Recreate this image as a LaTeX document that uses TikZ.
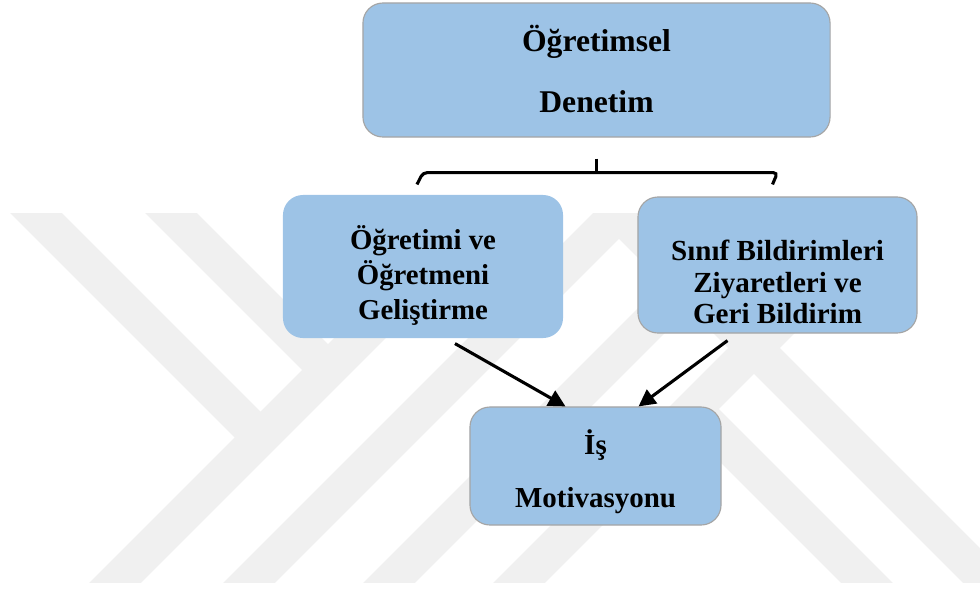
\documentclass[tikz,border=0pt]{standalone}
\usepackage{fontspec}
\setmainfont{Liberation Serif}
\usetikzlibrary{calc,arrows.meta}

\definecolor{kutumavi}{HTML}{9DC3E6}
\definecolor{kenargri}{HTML}{A5A5A5}
\definecolor{filigran}{HTML}{F0F0F0}

\tikzset{
  kutu/.style={fill=kutumavi, draw=kenargri, line width=0.8pt, rounded corners=0.5cm},
  yazi/.style={align=center, font=\bfseries\fontsize{20.5}{24.8}\selectfont},
  ok/.style={-{Triangle[length=12pt,width=12pt]}, line width=2.2pt},
  parantez/.style={line width=2.2pt, rounded corners=3pt},
  bant/.style={filigran, line width=26pt},
}

\begin{document}
\begin{tikzpicture}[x=0.025cm, y=-0.025cm]
\useasboundingbox (0,0) rectangle (980,588);

% arka plandaki filigran
\begin{scope}
  \clip (0,213) rectangle (980,582);
  \draw[bant] (86,612) -- (530,168);
  \draw[bant] (220,612) -- (664,168);
  \draw[bant] (360,612) -- (700,272);
  \draw[bant] (490,612) -- (934,168);
  \draw[bant] (-9,168) -- (265,442);
  \draw[bant] (126,168) -- (333,375);
  \draw[bant] (574,168) -- (1020,614);
  \draw[bant] (688,404) -- (910,626);
\end{scope}

% kutular
\node[kutu, minimum width=11.675cm, minimum height=3.35cm] (denetim) at (596.5,70) {};
\node[kutu, draw=none, minimum width=7cm, minimum height=3.575cm] (ogret) at (423,266.5) {};
\node[kutu, minimum width=6.975cm, minimum height=3.4cm] (sinif) at (777.5,265) {};
\node[kutu, minimum width=6.275cm, minimum height=2.95cm] (motiv) at (595.5,466) {};

% kutu yazilari
\node[yazi, font=\bfseries\fontsize{22.5}{44}\selectfont] (denetim-y) at ($(denetim.center)+(0,-1)$) {Öğretimsel\\Denetim};
\node[yazi] (ogret-y) at ($(ogret.center)+(0,9)$) {Öğretimi ve\\Öğretmeni\\Geliştirme};
\node[yazi, font=\bfseries\fontsize{20.7}{22.3}\selectfont] (sinif-y) at ($(sinif.center)+(0,17)$) {Sınıf Bildirimleri\\Ziyaretleri ve\\Geri Bildirim};
\node[yazi, font=\bfseries\fontsize{20.6}{37.6}\selectfont] (motiv-y) at ($(motiv.center)+(0,6)$) {İş\\Motivasyonu};

% parantez
\coordinate (tepe) at ($(denetim.south)+(0,21)$);
\coordinate (orta) at ($(denetim.south)+(0,35)$);
\draw[parantez] ($(ogret.north)+(-6,-10)$) -- (ogret.north |- orta) -- (sinif.north |- orta) -- ($(sinif.north)+(-5,-12)$);
\draw[line width=2.2pt] (tepe) -- (orta);

% oklar
\draw[ok] ($(ogret.south)+(32,5)$) -- ($(motiv.north)+(-30,0)$);
\draw[ok] ($(sinif.south)+(-50,7)$) -- ($(motiv.north)+(43,0)$);
\end{tikzpicture}
\end{document}
